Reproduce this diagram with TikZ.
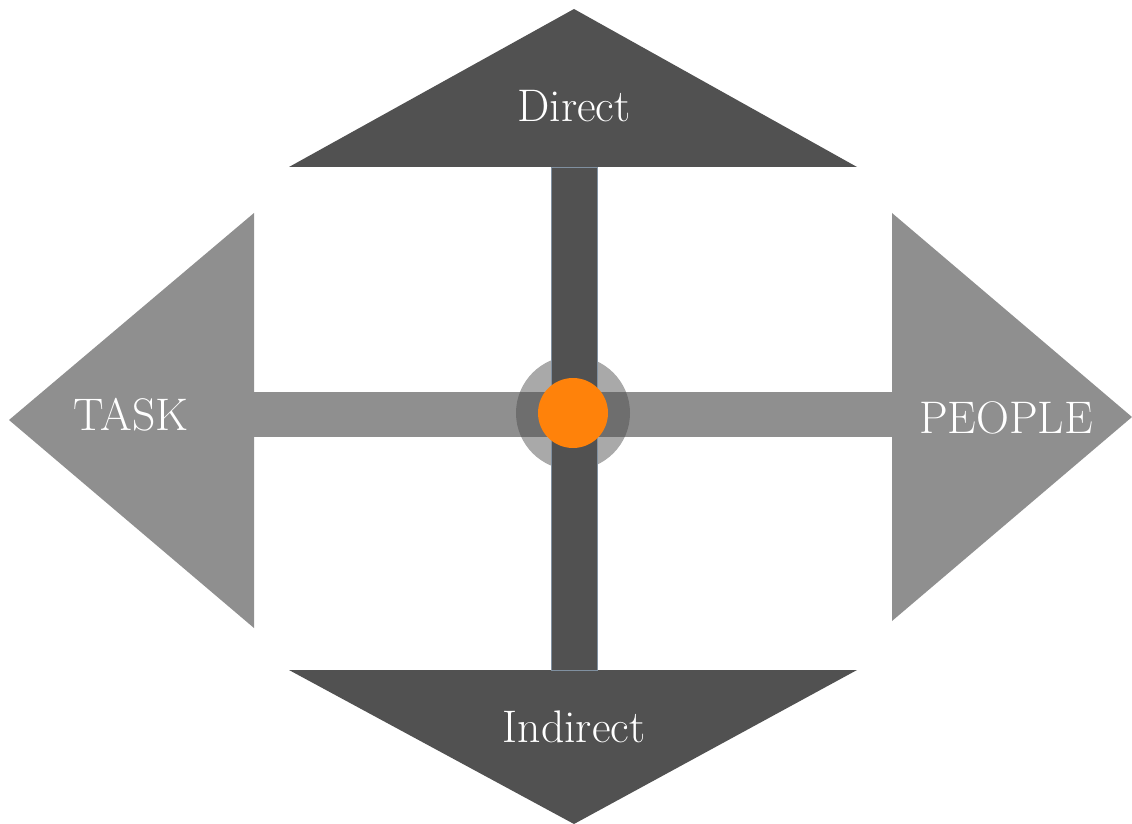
\documentclass[tikz,border=0pt]{standalone}
\usepackage{xcolor}
\usepackage{tikz}
\usetikzlibrary{positioning, calc}
\definecolor{mydark}{RGB}{81,81,81}
\definecolor{mygrey}{RGB}{143,143,143}
\definecolor{myhalo}{RGB}{75,75,75}
\definecolor{myedge}{RGB}{128,144,160}
\definecolor{myorange}{RGB}{255,130,10}
\tikzset{
  darkshape/.style={fill=mydark},
  greyshape/.style={fill=mygrey},
  vbar/.style={fill=mydark, draw=myedge, line width=0.5pt},
  halo/.style={fill=myhalo, fill opacity=0.48},
  hub/.style={fill=myorange},
  label/.style={text=white, font=\fontsize{26}{30}\selectfont, inner sep=0pt}
}

\begin{document}
\begin{tikzpicture}[x=0.02cm, y=-0.02cm]
  \useasboundingbox (0,0) rectangle (1132,824);
  % arrow heads
  \fill[darkshape] (574,9) -- (857,167) -- (289,167) -- cycle;
  \fill[darkshape] (289,670) -- (857,670) -- (574,824) -- cycle;
  \fill[greyshape] (9,420) -- (254,213) -- (254,628) -- cycle;
  \fill[greyshape] (892,213) -- (1132,417) -- (892,621) -- cycle;
  % cross
  \fill[greyshape] (254,392) rectangle (892,437);
  \coordinate (centre) at (573,413);
  \fill[halo] (centre) circle (57);
  \filldraw[vbar] (551,167) rectangle (597,670);
  \fill[hub] (centre) circle (35);
  % labels
  \node[label] (direct) at (574,106) {Direct};
  \node[label] (indirect) at (574,727) {Indirect};
  \node[label] (task) at (131,415) {TASK};
  \node[label] (people) at (1006,418) {PEOPLE};
\end{tikzpicture}
\end{document}
